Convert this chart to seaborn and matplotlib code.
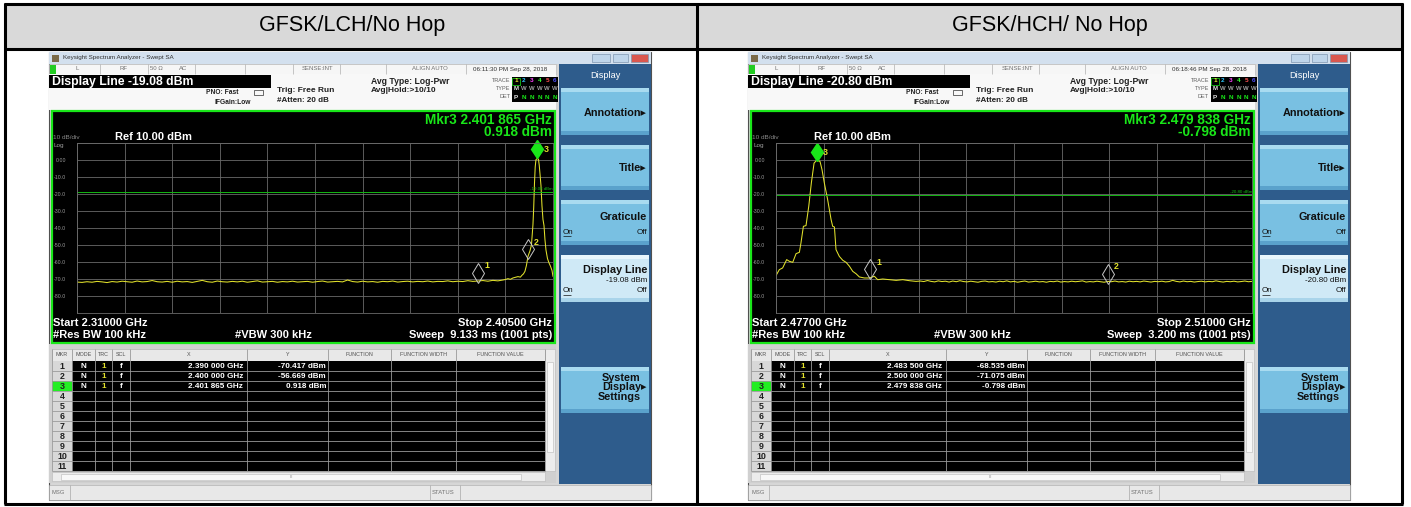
import numpy as np
import pandas as pd
import matplotlib
matplotlib.use("Agg")
import matplotlib.pyplot as plt
from matplotlib.patches import Rectangle
import seaborn as sns

W, H = 1411, 507

titles = ["GFSK/LCH/No Hop", "GFSK/HCH/ No Hop"]
timestamps = ["06:11:30 PM Sep 28, 2018", "06:18:46 PM Sep 28, 2018"]
display_lines = [-19.08, -20.80]
starts_ghz = [2.310, 2.477]
stops_ghz = [2.405, 2.510]
sweeps_ms = [9.133, 3.200]

# marker table, markers 1..3
lch_mkr_ghz = [2.390000, 2.400000, 2.401865]
lch_mkr_dbm = [-70.417, -56.669, 0.918]
hch_mkr_ghz = [2.483500, 2.500000, 2.479838]
hch_mkr_dbm = [-68.535, -71.075, -0.798]

# LCH trace: noise floor (1 MHz steps) then the carrier skirt
lch_floor_start, lch_floor_stop = 2.310, 2.395
lch_floor_dbm = [
    -71.8, -72.0, -71.6, -71.9, -71.4, -71.7, -72.1, -71.5, -71.8, -71.3,
    -71.6, -71.9, -71.2, -71.7, -71.5, -70.9, -71.6, -71.8, -71.4, -71.9,
    -71.3, -71.7, -71.5, -72.0, -71.4, -70.8, -71.6, -71.9, -71.2, -71.6,
    -71.8, -71.4, -71.7, -71.3, -71.9, -71.5, -71.1, -71.8, -71.6, -71.4,
    -71.9, -71.5, -71.7, -71.3, -71.8, -71.6, -71.4, -71.9, -71.5, -71.2,
    -71.8, -71.6, -71.4, -71.7, -70.6, -71.5, -71.8, -71.3, -71.7, -71.5,
    -71.9, -71.4, -71.6, -71.2, -71.8, -71.5, -71.3, -71.7, -71.4, -71.6,
    -71.2, -71.7, -71.4, -71.5, -71.1, -71.6, -71.3, -71.5, -71.0, -71.4,
    -71.2, -70.9, -71.3, -70.8, -71.1, -70.6,
]
lch_peak_ghz = [
    2.3955, 2.3960, 2.3965, 2.3970, 2.3975, 2.3980, 2.3985, 2.3988, 2.3991,
    2.3994, 2.3997, 2.4000, 2.4004, 2.4007, 2.4010, 2.40115, 2.4013, 2.40145,
    2.4016, 2.40187, 2.4021, 2.40225, 2.4024, 2.4026, 2.4028, 2.4030, 2.4032,
    2.4034, 2.4036, 2.4039, 2.4042, 2.4045, 2.4048, 2.4050,
]
lch_peak_dbm = [
    -70.3, -69.8, -70.2, -69.4, -69.0, -68.6, -68.9, -67.8, -67.0,
    -65.5, -62.0, -56.7, -53.5, -50.0, -38.0, -28.0, -14.0, -4.0,
    0.2, 0.9, 0.4, -3.0, -8.0, -15.0, -27.0, -35.0, -38.5,
    -47.0, -53.0, -58.0, -60.5, -62.5, -65.0, -68.5,
]

# HCH trace: carrier skirt then noise floor (0.25 MHz steps)
hch_peak_ghz = [
    2.47700, 2.47723, 2.47746, 2.47774, 2.47793, 2.47816, 2.47839, 2.47862,
    2.47873, 2.47890, 2.47908, 2.47927, 2.47945, 2.47964, 2.47982, 2.48005,
    2.48019, 2.48035, 2.48058, 2.48082, 2.48093, 2.48105, 2.48116, 2.48139,
    2.48163, 2.48186, 2.48209, 2.48232, 2.48255, 2.48278, 2.48313, 2.48348,
    2.48382, 2.48405, 2.48440, 2.48486, 2.48533, 2.48579, 2.48625, 2.48671,
]
hch_peak_dbm = [
    -68.0, -64.5, -63.5, -58.6, -59.6, -60.2, -55.1, -54.3,
    -48.8, -39.0, -38.6, -27.3, -13.5, -1.8, -0.2, -0.8,
    -5.7, -13.5, -23.3, -35.1, -39.0, -39.4, -52.7, -56.7,
    -59.0, -60.2, -62.5, -65.5, -66.9, -68.8, -69.4, -69.4,
    -68.4, -70.4, -70.0, -70.4, -70.8, -70.4, -71.0, -71.4,
]
hch_floor_start, hch_floor_stop = 2.487, 2.510
hch_floor_dbm = [
    -71.2, -71.5, -70.9, -71.4, -71.7, -71.1, -71.5, -71.3, -71.8, -71.2,
    -71.6, -71.0, -71.5, -71.7, -71.3, -71.6, -71.9, -71.4, -71.2, -71.7,
    -71.5, -71.8, -71.3, -71.6, -71.1, -71.7, -71.4, -71.9, -71.5, -71.2,
    -71.8, -71.6, -71.3, -71.7, -71.5, -71.9, -71.4, -71.6, -71.2, -71.8,
    -71.5, -71.7, -71.3, -71.6, -71.4, -71.1, -71.8, -71.5, -71.7, -71.3,
    -71.6, -71.9, -71.4, -71.6, -71.2, -71.7, -71.5, -71.8, -71.3, -71.6,
    -71.4, -71.7, -71.2, -71.5, -71.8, -71.4, -71.6, -71.3, -71.7, -71.5,
    -70.8, -71.4, -71.7, -71.2, -71.6, -71.4, -71.8, -71.5, -71.3, -71.7,
    -71.4, -71.6, -71.1, -71.5, -71.8, -71.4, -71.6, -71.3, -71.7, -71.5,
    -71.2, -71.6, -71.4,
]

lch_ghz = list(np.linspace(lch_floor_start, lch_floor_stop, len(lch_floor_dbm))) + lch_peak_ghz
lch_dbm = lch_floor_dbm + lch_peak_dbm
hch_ghz = hch_peak_ghz + list(np.linspace(hch_floor_start, hch_floor_stop, len(hch_floor_dbm)))
hch_dbm = hch_peak_dbm + hch_floor_dbm

sns.set_theme(style="white")
plt.rcParams["font.family"] = ["Liberation Sans", "DejaVu Sans"]

fig = plt.figure(figsize=(W / 100, H / 100), dpi=100)
bg = fig.add_axes([0, 0, 1, 1])
bg.set_xlim(0, W)
bg.set_ylim(H, 0)
bg.axis("off")
bg.set_autoscale_on(False)

GREEN = "#19e619"
YELLOW = "#e2e22c"


def box(x, y, w, h, fc, ec="none", lw=0.0, z=2):
    bg.add_patch(Rectangle((x, y), w, h, facecolor=fc, edgecolor=ec, linewidth=lw, zorder=z))


def line(xs, ys, color, lw, z=3):
    bg.plot(xs, ys, color=color, lw=lw, zorder=z, solid_capstyle="butt")


def txt(x, y, s, size, color="black", ha="left", weight="normal", z=5, **kw):
    bg.text(x, y, s, fontsize=size, color=color, ha=ha, va="center",
            fontweight=weight, zorder=z, **kw)


def fmt_ghz(v):
    s = f"{v:.6f}"
    return s[:5] + " " + s[5:]


def draw_screen(ox, i, mkr_ghz, mkr_dbm, trace_ghz, trace_dbm):
    def X(rx):
        return ox + rx

    dl = display_lines[i]
    start, stop = starts_ghz[i], stops_ghz[i]

    # window frame and title bar
    box(X(0), 52, 602, 448, "#d6d6d6", ec="#505050", lw=0.8, z=1)
    box(X(0), 52, 602, 12, "#d3e0ee")
    box(X(3), 54.5, 7, 7, "#7a6a48")
    txt(X(14), 58, "Keysight Spectrum Analyzer - Swept SA", 4.5, "#303030")
    for bx, bw, c in [(543, 18, "#bfd5ea"), (564, 15, "#bfd5ea"), (582, 17, "#d9574f")]:
        box(X(bx), 54, bw, 8, c, ec="#7f96b0", lw=0.5, z=3)

    # status row
    box(X(0), 64, 507, 10, "#f6f6f6", ec="#b0b0b0", lw=0.4)
    for sx in [51, 99, 146, 196, 244, 291, 337, 417]:
        line([X(sx), X(sx)], [64, 74], "#b0b0b0", 0.5)
    box(X(0.5), 64.5, 6, 9, "#22cc22", z=3)
    for sx, s in [(28, "L"), (74, "RF"), (107, "50 Ω"), (134, "AC"),
                  (269, "SENSE:INT"), (381, "ALIGN AUTO")]:
        txt(X(sx), 69, s, 4.3, "#707070", ha="center")
    txt(X(461), 69, timestamps[i], 4.5, "#303030", ha="center")

    # setting header
    box(X(0), 74, 507, 36, "#f8f8f8")
    box(X(0), 75, 222, 13, "black", z=3)
    txt(X(3), 82, f"Display Line {dl:.2f} dBm", 8.8, "white", weight="bold")
    txt(X(190), 93, "PNO: Fast", 4.8, "#202020", ha="right", weight="bold")
    txt(X(202), 102, "IFGain:Low", 4.8, "#202020", ha="right", weight="bold")
    box(X(205), 89.5, 9, 5, "none", ec="#303030", lw=0.5, z=3)
    txt(X(228), 90, "Trig: Free Run", 6.0, "#202020", weight="bold")
    txt(X(228), 101, "#Atten: 20 dB", 5.8, "#202020", weight="bold")
    txt(X(322), 81, "Avg Type: Log-Pwr", 6.2, "#202020", weight="bold")
    txt(X(322), 90, "Avg|Hold:>10/10", 6.0, "#202020", weight="bold")
    for yy, s in [(80, "TRACE"), (88.5, "TYPE"), (97, "DET")]:
        txt(X(461), yy, s, 4.0, "#606060", ha="right")
    box(X(463), 77, 46, 25, "black", z=3)
    trace_cols = ["#e8e832", "#30c8ff", "#ff40ff", "#30ff30", "#ff5050", "#5050ff"]
    for k in range(6):
        txt(X(467 + k * 7.8), 80.5, str(k + 1), 4.6, trace_cols[k], ha="center", weight="bold")
        txt(X(467 + k * 7.8), 89, "M" if k == 0 else "W", 4.3,
            "#e0e0e0" if k == 0 else "#a0a0a0", ha="center", weight="bold")
        txt(X(467 + k * 7.8), 97.5, "P" if k == 0 else "N", 4.6,
            "#e0e0e0" if k == 0 else GREEN, ha="center", weight="bold")
    box(X(463), 78, 7.5, 7, "none", ec=GREEN, lw=0.5, z=4)

    # graph window
    box(X(3), 111, 503, 232, "black", ec=GREEN, lw=1.6, z=2)
    txt(X(503), 120, f"Mkr3 {fmt_ghz(mkr_ghz[2])} GHz", 9.8, GREEN, ha="right", weight="bold")
    txt(X(503), 132, f"{mkr_dbm[2]:.3f} dBm", 9.8, GREEN, ha="right", weight="bold")
    txt(X(4), 137.5, "10 dB/div", 4.6, "#8a8a8a")
    txt(X(66), 137, "Ref 10.00 dBm", 8.0, "white", weight="bold")
    txt(X(5), 145.5, "Log", 4.6, "#a0a0a0")
    txt(X(4), 323, f"Start {start:.5f} GHz", 8.0, "white", weight="bold")
    txt(X(4), 334.5, "#Res BW 100 kHz", 8.0, "white", weight="bold")
    txt(X(186), 334.5, "#VBW 300 kHz", 8.0, "white", weight="bold")
    txt(X(503), 323, f"Stop {stop:.5f} GHz", 8.0, "white", ha="right", weight="bold")
    txt(X(503), 334.5, f"Sweep  {sweeps_ms[i]:.3f} ms (1001 pts)", 8.0, "white",
        ha="right", weight="bold")

    # marker table
    box(X(0), 344, 507, 139, "#d0d0d0", z=1.5)
    box(X(3), 349, 493, 12, "#e8e8e8", ec="#a8a8a8", lw=0.4)
    cols = [3, 23, 46, 63, 81, 198, 279, 342, 407, 496]
    heads = ["MKR", "MODE", "TRC", "SCL", "X", "Y", "FUNCTION", "FUNCTION WIDTH", "FUNCTION VALUE"]
    for k, hd in enumerate(heads):
        txt(X((cols[k] + cols[k + 1]) / 2), 355, hd, 3.9, "#505050", ha="center")
    box(X(3), 361, 493, 110, "black")
    box(X(3), 361, 20, 110, "#d8d8d8", z=2.5)
    box(X(3), 381, 20, 10, "#22ee22", z=2.6)
    for r in range(11):
        yc = 361 + r * 10 + 5.3
        txt(X(13), yc, str(r + 1), 6.4, "#202020", ha="center", weight="bold")
        line([X(3), X(496)], [361 + (r + 1) * 10, 361 + (r + 1) * 10], "#9a9a9a", 0.6)
    for cx in cols:
        line([X(cx), X(cx)], [349, 471], "#9a9a9a", 0.6)
    for r in range(3):
        yc = 361 + r * 10 + 5.3
        txt(X(34.5), yc, "N", 5.9, "white", ha="center", weight="bold")
        txt(X(54.5), yc, "1", 5.9, YELLOW, ha="center", weight="bold")
        txt(X(72), yc, "f", 5.9, "white", ha="center", weight="bold")
        txt(X(194), yc, f"{fmt_ghz(mkr_ghz[r])} GHz", 5.9, "white", ha="right", weight="bold")
        txt(X(277), yc, f"{mkr_dbm[r]:.3f} dBm", 5.9, "white", ha="right", weight="bold")
    box(X(496), 349, 10, 122, "#ececec", ec="#b8b8b8", lw=0.4)
    box(X(498), 362, 6, 90, "#f8f8f8", ec="#b8b8b8", lw=0.4, z=3)
    box(X(3), 472, 493, 9, "#ececec", ec="#b8b8b8", lw=0.4)
    box(X(12), 473.5, 460, 6, "#f8f8f8", ec="#b8b8b8", lw=0.4, z=3)
    txt(X(242), 476.5, "III", 3.2, "#909090", ha="center", z=6)

    # message bar
    box(X(0), 485, 602, 15, "#e8e8e8", ec="#a8a8a8", lw=0.4)
    for sx in [21, 381, 411]:
        line([X(sx), X(sx)], [485, 500], "#a8a8a8", 0.5)
    txt(X(3), 492.5, "MSG", 4.2, "#707070")
    txt(X(383), 492.5, "STATUS", 4.2, "#707070")

    # softkey panel
    box(X(510), 64, 92, 420, "#2e5c8c", z=2)
    txt(X(556), 75, "Display", 6.6, "white", ha="center")
    keys = [(88, 135, False), (145, 190, False), (200, 245, False), (255, 302, True), (367, 413, False)]
    for y0, y1, sel in keys:
        box(X(512), y0, 88, y1 - y0, "#cfe9f6" if sel else "#79c0e2", z=3)
        box(X(512), y0, 88, 4, "#e8f6fc" if sel else "#a9dbf0", z=3.1)
        box(X(512), y1 - 4, 88, 4, "#a9d4ea" if sel else "#5aa2cc", z=3.1)
    kw = dict(color="#111111", weight="bold")
    txt(X(598), 113, "Annotation\u25b8", 7.8, ha="right", **kw)
    txt(X(598), 168, "Title\u25b8", 7.8, ha="right", **kw)
    txt(X(598), 217, "Graticule", 7.8, ha="right", **kw)
    txt(X(514), 232, "On", 5.8, "#111111")
    line([X(514), X(522)], [235.5, 235.5], "#111111", 0.5, z=5)
    txt(X(598), 232, "Off", 5.8, "#111111", ha="right")
    txt(X(598), 270, "Display Line", 7.8, ha="right", **kw)
    txt(X(598), 281, f"{dl:.2f} dBm", 5.8, "#111111", ha="right")
    txt(X(514), 291, "On", 5.8, "#111111")
    line([X(514), X(522)], [294.5, 294.5], "#111111", 0.5, z=5)
    txt(X(598), 291, "Off", 5.8, "#111111", ha="right")
    txt(X(572), 378, "System", 7.8, ha="center", **kw)
    txt(X(598), 387.5, "Display\u25b8", 7.8, ha="right", **kw)
    txt(X(570), 397, "Settings", 7.8, ha="center", **kw)

    # trace graticule
    ax = fig.add_axes([(ox + 28) / W, 1 - 313 / H, 476 / W, 170 / H])
    ax.set_facecolor("black")
    df = pd.DataFrame({"ghz": trace_ghz, "dbm": trace_dbm})
    sns.lineplot(data=df, x="ghz", y="dbm", ax=ax, color=YELLOW, lw=0.75,
                 estimator=None, sort=False)
    ax.set_xlim(start, stop)
    ax.set_ylim(-90, 10)
    ax.set_xticks(np.linspace(start, stop, 11))
    ax.set_xticklabels([])
    yt = list(range(10, -91, -10))
    ax.set_yticks(yt)
    ax.set_yticklabels(["" if v in (10, -90) else ("0.00" if v == 0 else f"{v:.1f}") for v in yt])
    ax.grid(True, color="#6a6a6a", lw=0.6)
    ax.tick_params(length=0, labelsize=3.8, labelcolor="#9a9a9a", pad=8)
    ax.set_xlabel("")
    ax.set_ylabel("")
    for sp in ax.spines.values():
        sp.set_color("#6a6a6a")
        sp.set_linewidth(0.6)

    ax.axhline(dl, color="#14b814", lw=0.7)
    ax.text(stop, dl + 0.8, f"{dl:.2f} dBm", fontsize=3.2, color="#14b814", ha="right", va="bottom")

    for k in range(3):
        g, d = mkr_ghz[k], mkr_dbm[k]
        if k < 2:
            ax.plot([g], [d + 4.2], marker="d", ms=10.5, mfc="none", mec="#c8c8c8", mew=0.7,
                    clip_on=False)
            ax.annotate(str(k + 1), (g, d + 4.2), xytext=(4.5, 5), textcoords="offset points",
                        fontsize=6.4, color=YELLOW, fontweight="bold", va="center")
        else:
            ax.plot([g], [d + 5.5], marker="d", ms=9.5, mfc=GREEN, mec=GREEN, clip_on=False)
            ax.annotate("3", (g, d + 5.5), xytext=(4.5, 0), textcoords="offset points",
                        fontsize=6.4, color=YELLOW, fontweight="bold", va="center")
    return ax


# table header
box(4, 3.5, 1398, 45, "#d9d9d9", z=1)
txt(352, 26, titles[0], 15.5, "black", ha="center")
txt(1050, 26, titles[1], 15.5, "black", ha="center")

draw_screen(49, 0, lch_mkr_ghz, lch_mkr_dbm, lch_ghz, lch_dbm)
draw_screen(748, 1, hch_mkr_ghz, hch_mkr_dbm, hch_ghz, hch_dbm)

# table rules
for xs, ys in [([4.5, 4.5], [3, 504]), ([1402, 1402], [3, 504]), ([697, 697], [3, 504]),
               ([4, 1402.5], [3.5, 3.5]), ([4, 1402.5], [48.5, 48.5]), ([4, 1402.5], [503.5, 503.5])]:
    line(xs, ys, "black", 2.2, z=10)

fig.savefig("out.png", dpi=100)
